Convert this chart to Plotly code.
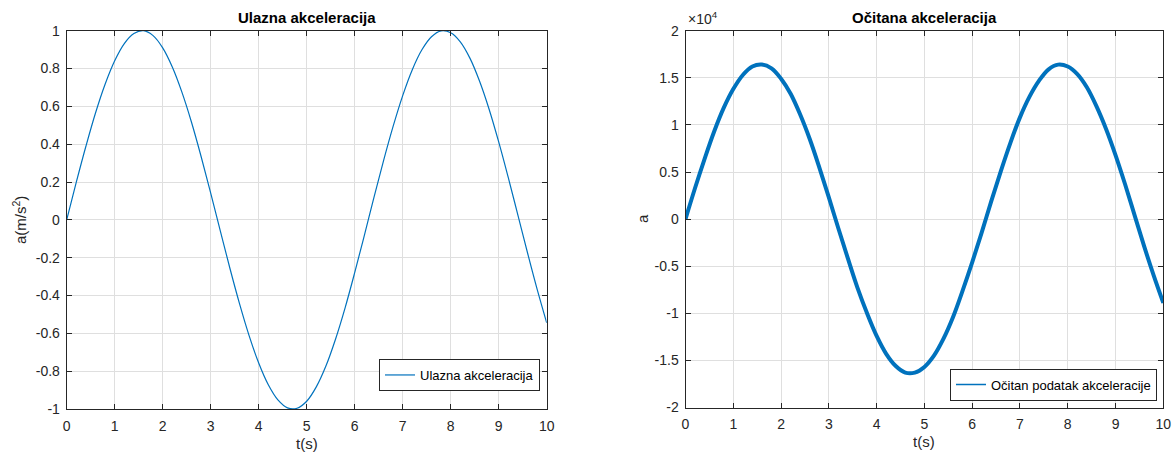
import plotly.graph_objects as go

# ---- data ----
t = [round(0.2 * i, 1) for i in range(51)]
ulazna = [0.0, 0.199, 0.389, 0.565, 0.717, 0.841, 0.932, 0.985, 1.0, 0.974,
          0.909, 0.808, 0.675, 0.516, 0.335, 0.141, -0.058, -0.256, -0.443, -0.612,
          -0.757, -0.872, -0.952, -0.994, -0.996, -0.959, -0.883, -0.773, -0.631, -0.465,
          -0.279, -0.083, 0.117, 0.312, 0.494, 0.657, 0.794, 0.899, 0.968, 0.999,
          0.989, 0.941, 0.855, 0.734, 0.585, 0.412, 0.223, 0.025, -0.174, -0.366,
          -0.544]
ocitana = [0, 3300, 6400, 9300, 11800, 13800, 15300, 16200, 16400, 16000,
           14900, 13300, 11100, 8500, 5500, 2300, -1000, -4200, -7300, -10000,
           -12400, -14300, -15600, -16300, -16300, -15700, -14500, -12700, -10400, -7600,
           -4600, -1400, 1900, 5100, 8100, 10800, 13000, 14700, 15900, 16400,
           16200, 15400, 14000, 12000, 9600, 6800, 3700, 400, -2900, -6000,
           -8900]
x_ticks = list(range(0, 11))
left_y_ticks = [-1, -0.8, -0.6, -0.4, -0.2, 0, 0.2, 0.4, 0.6, 0.8, 1]
left_y_text = ["-1", "-0.8", "-0.6", "-0.4", "-0.2", "0", "0.2", "0.4", "0.6", "0.8", "1"]
right_y_ticks = [-20000, -15000, -10000, -5000, 0, 5000, 10000, 15000, 20000]
right_y_text = ["-2", "-1.5", "-1", "-0.5", "0", "0.5", "1", "1.5", "2"]

W, H = 1172, 452
FONT = "Liberation Sans, Arial, sans-serif"
TXT = "#262626"
BLUE = "#0072BD"
GRID = "#dfdfdf"

fig = go.Figure()
fig.add_trace(go.Scatter(x=t, y=ulazna, mode="lines", name="Ulazna akceleracija",
                         line=dict(color=BLUE, width=1.2, shape="spline", smoothing=1.0),
                         xaxis="x", yaxis="y", legend="legend"))
fig.add_trace(go.Scatter(x=t, y=ocitana, mode="lines", showlegend=False,
                         line=dict(color=BLUE, width=4, shape="spline", smoothing=1.0),
                         xaxis="x2", yaxis="y2", hoverinfo="skip"))
fig.add_trace(go.Scatter(x=t, y=ocitana, mode="lines", name="Očitan podatak akceleracije",
                         line=dict(color=BLUE, width=1.5, shape="spline", smoothing=1.0),
                         xaxis="x2", yaxis="y2", legend="legend2"))


def px_x(p):
    return p / W


def px_y(p):
    return 1 - p / H


axis_common = dict(showline=True, linecolor=TXT, linewidth=1, mirror="ticks",
                   ticks="inside", ticklen=5, tickcolor=TXT, tickwidth=1,
                   showgrid=True, gridcolor=GRID, gridwidth=1, zeroline=False,
                   automargin=False,
                   tickfont=dict(family=FONT, size=14, color=TXT))

fig.update_layout(
    width=W, height=H,
    margin=dict(l=0, r=0, t=0, b=0, autoexpand=False),
    paper_bgcolor="white", plot_bgcolor="white",
    font=dict(family=FONT, color=TXT),
    xaxis=dict(domain=[px_x(66.7), px_x(546.7)], range=[0, 10], tickvals=x_ticks,
               anchor="y", ticklabelstandoff=4, **axis_common),
    yaxis=dict(domain=[px_y(409), px_y(30.7)], range=[-1, 1], tickvals=left_y_ticks,
               ticktext=left_y_text, anchor="x", ticklabelstandoff=3, **axis_common),
    xaxis2=dict(domain=[px_x(685.5), px_x(1163.3)], range=[0, 10], tickvals=x_ticks,
                anchor="y2", ticklabelstandoff=4, **axis_common),
    yaxis2=dict(domain=[px_y(407.5), px_y(30.7)], range=[-20000, 20000], tickvals=right_y_ticks,
                ticktext=right_y_text, anchor="x2", ticklabelstandoff=3, **axis_common),
    legend=dict(x=px_x(540), y=px_y(375), xanchor="right", yanchor="middle",
                bgcolor="white", bordercolor=TXT, borderwidth=1,
                font=dict(family=FONT, size=13, color="black")),
    legend2=dict(x=px_x(1157), y=px_y(384.5), xanchor="right", yanchor="middle",
                 bgcolor="white", bordercolor=TXT, borderwidth=1,
                 font=dict(family=FONT, size=13, color="black")),
    showlegend=True,
)

annotations = [
    dict(text="<b>Ulazna akceleracija</b>", x=px_x(306.7), y=px_y(17), xanchor="center", yanchor="middle",
         font=dict(family=FONT, size=15, color="black")),
    dict(text="<b>Očitana akceleracija</b>", x=px_x(924.4), y=px_y(17), xanchor="center", yanchor="middle",
         font=dict(family=FONT, size=15, color="black")),
    dict(text="t(s)", x=px_x(306.7), y=px_y(443), xanchor="center", yanchor="middle",
         font=dict(family=FONT, size=15, color=TXT)),
    dict(text="t(s)", x=px_x(924.4), y=px_y(441), xanchor="center", yanchor="middle",
         font=dict(family=FONT, size=15, color=TXT)),
    dict(text="a(m/s<sup>2</sup>)", x=px_x(19), y=px_y(220), xanchor="center", yanchor="middle",
         textangle=-90, font=dict(family=FONT, size=15, color=TXT)),
    dict(text="a", x=px_x(642), y=px_y(219), xanchor="center", yanchor="middle",
         textangle=-90, font=dict(family=FONT, size=15, color=TXT)),
    dict(text="×10<sup>4</sup>", x=px_x(686), y=px_y(29), xanchor="left", yanchor="bottom",
         font=dict(family=FONT, size=14, color=TXT)),
]
for a in annotations:
    a.update(xref="paper", yref="paper", showarrow=False)
fig.update_layout(annotations=annotations)

fig.write_html("out.html",
               config={"displayModeBar": False},
               post_script="document.body.style.margin='0';document.body.style.overflow='hidden';")
